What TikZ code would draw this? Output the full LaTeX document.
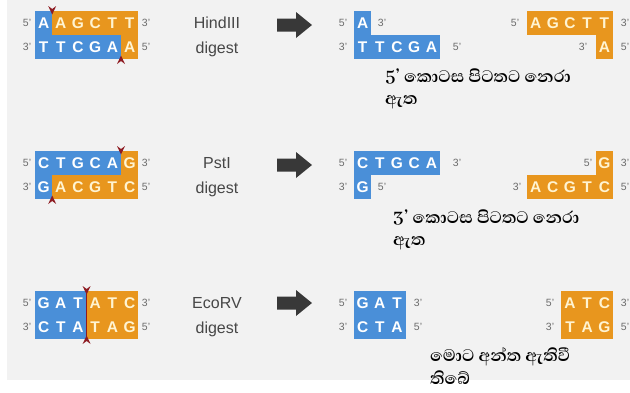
\documentclass[tikz,border=0pt]{standalone}
\usepackage{fontspec}
\setmainfont{Liberation Sans}
\newfontfamily\sinhalafont[Script=Sinhala]{Abhaya Libre}
\definecolor{dnablue}{HTML}{4A8FD8}
\definecolor{dnaorange}{HTML}{E8961E}
\definecolor{bggray}{HTML}{F2F2F2}
\definecolor{cutred}{HTML}{8E1B22}
\definecolor{arrowgray}{HTML}{383838}
\definecolor{lettercream}{HTML}{FFF4D2}
\tikzset{
  basel/.style={inner sep=0pt, font=\fontsize{15.5}{15.5}\selectfont\bfseries},
  onblue/.style={basel, text=white},
  onorange/.style={basel, text=lettercream},
  endlbl/.style={inner sep=0pt, font=\fontsize{10.5}{10.5}\selectfont, text=black!58},
  enzyme/.style={inner sep=0pt, font=\fontsize{16}{16}\selectfont, text=black!72},
  note/.style={inner sep=0pt, anchor=north west, align=left, font=\sinhalafont\bfseries\fontsize{21.5}{22}\selectfont},
}
% #1 name prefix, #2 x0, #3 y centre, #4 number of blue letters, #5 letters
\newcommand\dnarow[5]{%
  \foreach \l [count=\i] in {#5} {%
    \ifnum\i>#4\relax
      \node[onorange] (#1\i) at ({#2+17.2*(\i-0.5)},#3) {\l};
    \else
      \node[onblue] (#1\i) at ({#2+17.2*(\i-0.5)},#3) {\l};
    \fi
  }}
\newcommand\cutdown[2]{\fill[cutred] (#1-4,#2-5) -- (#1,#2-2) -- (#1+4,#2-5) -- (#1,#2+3.5) -- cycle;}
\newcommand\cutup[2]{\fill[cutred] (#1-4,#2+5) -- (#1,#2+2) -- (#1+4,#2+5) -- (#1,#2-3.5) -- cycle;}
\newcommand\digarrow[1]{\fill[arrowgray] (277,#1-6.5) -- (296,#1-6.5) -- (296,#1-13) -- (312,#1) -- (296,#1+13) -- (296,#1+6.5) -- (277,#1+6.5) -- cycle;}
\begin{document}
\begin{tikzpicture}[x=1pt,y=-1pt]
\useasboundingbox (0,0) rectangle (630,392);
\fill[white] (0,0) rectangle (630,392);
\fill[bggray] (7,0) rectangle (630,380);

% ---------- Row 1: HindIII ----------
\fill[dnablue] (35,11) rectangle (52.4,35.2);
\fill[dnaorange] (52.2,11) rectangle (138.2,35.2);
\fill[dnablue] (35,35) rectangle (121.2,59);
\fill[dnaorange] (121,35) rectangle (138.2,59);
\dnarow{hA}{35}{23}{1}{A,A,G,C,T,T}
\dnarow{hB}{35}{47}{5}{T,T,C,G,A,A}
\cutdown{52.2}{11}
\cutup{121}{59}
\node[endlbl] (h5a) at (27,23) {5'};
\node[endlbl] (h3a) at (27,47) {3'};
\node[endlbl] (h3b) at (146,23) {3'};
\node[endlbl] (h5b) at (146,47) {5'};
\node[enzyme] (hind) at (217,23) {HindIII};
\node[enzyme] (hdig) at (217,49) {digest};
\digarrow{25}
% fragments
\fill[dnablue] (354,11) rectangle (371.2,35.2);
\fill[dnablue] (354,35) rectangle (440,59);
\dnarow{hC}{354}{23}{1}{A}
\dnarow{hD}{354}{47}{5}{T,T,C,G,A}
\node[endlbl] (h5c) at (343,23) {5'};
\node[endlbl] (h3c) at (382,23) {3'};
\node[endlbl] (h3d) at (343,47) {3'};
\node[endlbl] (h5d) at (457,47) {5'};
\fill[dnaorange] (527,11) rectangle (613,35.2);
\fill[dnaorange] (595.8,35) rectangle (613,59);
\dnarow{hE}{527}{23}{0}{A,G,C,T,T}
\dnarow{hF}{595.8}{47}{0}{A}
\node[endlbl] (h5e) at (515,23) {5'};
\node[endlbl] (h3e) at (625,23) {3'};
\node[endlbl] (h3f) at (583,47) {3'};
\node[endlbl] (h5f) at (625,47) {5'};
\node[note] (hnote) at (385,69) {5’ කොටස පිටතට නෙරා\\ඇත};

% ---------- Row 2: PstI ----------
\fill[dnablue] (35,151) rectangle (121.2,175.2);
\fill[dnaorange] (121,151) rectangle (138.2,175.2);
\fill[dnablue] (35,175) rectangle (52.4,199);
\fill[dnaorange] (52.2,175) rectangle (138.2,199);
\dnarow{pA}{35}{163}{5}{C,T,G,C,A,G}
\dnarow{pB}{35}{187}{1}{G,A,C,G,T,C}
\cutdown{121}{151}
\cutup{52.2}{199}
\node[endlbl] (p5a) at (27,163) {5'};
\node[endlbl] (p3a) at (27,187) {3'};
\node[endlbl] (p3b) at (146,163) {3'};
\node[endlbl] (p5b) at (146,187) {5'};
\node[enzyme] (pst) at (217,163) {PstI};
\node[enzyme] (pdig) at (217,189) {digest};
\digarrow{165}
\fill[dnablue] (354,151) rectangle (440,175.2);
\fill[dnablue] (354,175) rectangle (371.2,199);
\dnarow{pC}{354}{163}{5}{C,T,G,C,A}
\dnarow{pD}{354}{187}{1}{G}
\node[endlbl] (p5c) at (343,163) {5'};
\node[endlbl] (p3c) at (457,163) {3'};
\node[endlbl] (p3d) at (343,187) {3'};
\node[endlbl] (p5d) at (382,187) {5'};
\fill[dnaorange] (595.8,151) rectangle (613,175.2);
\fill[dnaorange] (527,175) rectangle (613,199);
\dnarow{pE}{595.8}{163}{0}{G}
\dnarow{pF}{527}{187}{0}{A,C,G,T,C}
\node[endlbl] (p5e) at (588,163) {5'};
\node[endlbl] (p3e) at (625,163) {3'};
\node[endlbl] (p3f) at (517,187) {3'};
\node[endlbl] (p5f) at (625,187) {5'};
\node[note] (pnote) at (393,210) {3’ කොටස පිටතට නෙරා\\ඇත};

% ---------- Row 3: EcoRV ----------
\fill[dnablue] (35,291) rectangle (86.8,339);
\fill[dnaorange] (86.6,291) rectangle (138.2,339);
\draw[cutred, line width=0.7pt] (86.6,291) -- (86.6,339);
\dnarow{eA}{35}{303}{3}{G,A,T,A,T,C}
\dnarow{eB}{35}{327}{3}{C,T,A,T,A,G}
\cutdown{86.6}{291}
\cutup{86.6}{339}
\node[endlbl] (e5a) at (27,303) {5'};
\node[endlbl] (e3a) at (27,327) {3'};
\node[endlbl] (e3b) at (146,303) {3'};
\node[endlbl] (e5b) at (146,327) {5'};
\node[enzyme] (eco) at (217,303) {EcoRV};
\node[enzyme] (edig) at (217,329) {digest};
\digarrow{303}
\fill[dnablue] (354,291) rectangle (405.6,339);
\dnarow{eC}{354}{303}{3}{G,A,T}
\dnarow{eD}{354}{327}{3}{C,T,A}
\node[endlbl] (e5c) at (343,303) {5'};
\node[endlbl] (e3c) at (418,303) {3'};
\node[endlbl] (e3d) at (343,327) {3'};
\node[endlbl] (e5d) at (418,327) {5'};
\fill[dnaorange] (561.4,291) rectangle (613,339);
\dnarow{eE}{561.4}{303}{0}{A,T,C}
\dnarow{eF}{561.4}{327}{0}{T,A,G}
\node[endlbl] (e5e) at (550,303) {5'};
\node[endlbl] (e3e) at (625,303) {3'};
\node[endlbl] (e3f) at (550,327) {3'};
\node[endlbl] (e5f) at (625,327) {5'};
\node[note, font=\sinhalafont\bfseries\fontsize{21.5}{23}\selectfont] (enote) at (430,347) {මොට අන්ත ඇතිවී\\තිබේ};
\end{tikzpicture}
\end{document}
